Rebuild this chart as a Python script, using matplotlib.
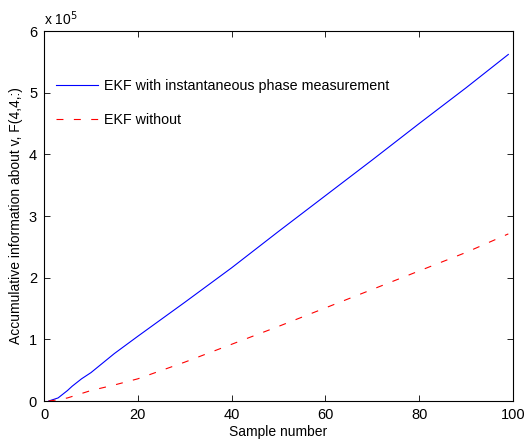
"""
Accumulated Fisher information about v: EKF with vs. without the
instantaneous phase measurement (MATLAB-style figure).
"""

import matplotlib

matplotlib.use("Agg")
import matplotlib.pyplot as plt

plt.rcParams["font.family"] = ["Liberation Sans", "DejaVu Sans"]
plt.rcParams["lines.scale_dashes"] = False

# values, y in units of 1e5
SCALE = 1e5
sample_blue = [1, 3, 5, 6, 8, 10, 15, 20, 30, 40, 50, 60, 70, 80, 90, 99]
info_with = [0.0, 0.05, 0.17, 0.24, 0.36, 0.46, 0.77, 1.05, 1.60, 2.16,
             2.75, 3.33, 3.91, 4.50, 5.08, 5.62]
sample_red = [1, 3, 5, 10, 15, 20, 30, 40, 50, 60, 70, 80, 90, 99]
info_without = [0.0, 0.02, 0.05, 0.17, 0.26, 0.36, 0.63, 0.92, 1.21, 1.51,
                1.81, 2.11, 2.41, 2.71]

x_ticks = [0, 20, 40, 60, 80, 100]
y_ticks = [0, 1, 2, 3, 4, 5, 6]

fig = plt.figure(figsize=(5.26, 4.40), dpi=100)
ax = fig.add_axes([0.0837, 0.0886, 0.8916, 0.8409])

ax.plot(sample_blue, [v * SCALE for v in info_with], color="#0000ff",
        linewidth=0.8, label="EKF with instantaneous phase measurement")
ax.plot(sample_red, [v * SCALE for v in info_without], color="#ff0000",
        linewidth=0.8, dashes=(5, 7.5), label="EKF without")

ax.set_xlim(0, 100)
ax.set_ylim(0, 6 * SCALE)
ax.set_xticks(x_ticks)
ax.set_yticks([t * SCALE for t in y_ticks])
ax.set_yticklabels([str(t) for t in y_ticks])
ax.tick_params(direction="in", top=True, right=True, length=4,
               width=0.6, labelsize=10.5, pad=5)
for sp in ax.spines.values():
    sp.set_linewidth(0.8)

ax.text(0.0, 1.008, r"x 10$^5$", transform=ax.transAxes, fontsize=10,
        ha="left", va="bottom")

ax.set_xlabel("Sample number", fontsize=10, labelpad=2)
ax.set_ylabel("Accumulative information about v, F(4,4,:)", fontsize=10,
              labelpad=4)

ax.legend(loc="upper left", bbox_to_anchor=(-0.004, 0.91), frameon=False,
          fontsize=10.3, handlelength=2.9, handletextpad=0.45,
          labelspacing=1.45, borderaxespad=0.6)

fig.savefig("out.png", dpi=100)
